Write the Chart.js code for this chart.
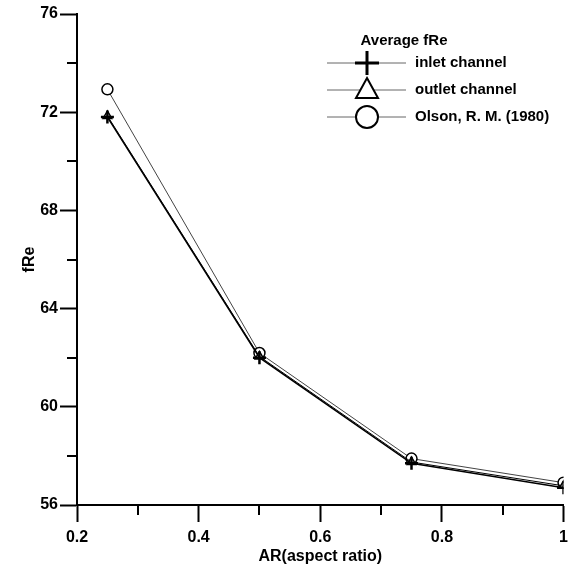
<!DOCTYPE html>
<html>
<head>
<meta charset="utf-8">
<script src="https://cdn.jsdelivr.net/npm/chart.js@4.4.1/dist/chart.umd.min.js"></script>
<style>
  body { margin: 0; background: #fff; }
  #wrap { width: 574px; height: 570px; }
</style>
</head>
<body>
<div id="wrap"><canvas id="chart" width="574" height="570"></canvas></div>
<script>
const aspectRatios = [0.25, 0.5, 0.75, 1.0];
const inletFRe = [71.8, 62.0, 57.7, 56.7];
const outletFRe = [71.85, 62.05, 57.75, 56.78];
const olsonFRe = [72.93, 62.19, 57.89, 56.91];
const seriesNames = ["inlet channel", "outlet channel", "Olson, R. M. (1980)"];
const legendTitle = "Average fRe";
const yMinorTicks = [58, 62, 66, 70, 74];
const xMinorTicks = [0.3, 0.5, 0.7, 0.9];

const FONT = "'Liberation Sans', Arial, sans-serif";

function pts(vals) {
  return aspectRatios.map((x, i) => ({ x: x, y: vals[i] }));
}

// short minor ticks, drawn through the scales
const minorTicks = {
  id: "minorTicks",
  afterDraw(chart) {
    const ctx = chart.ctx;
    const xs = chart.scales.x, ys = chart.scales.y;
    const area = chart.chartArea;
    ctx.save();
    ctx.strokeStyle = "#000";
    ctx.lineWidth = 2;
    ctx.beginPath();
    yMinorTicks.forEach(v => {
      const py = Math.round(ys.getPixelForValue(v));
      ctx.moveTo(area.left - 10, py);
      ctx.lineTo(area.left, py);
    });
    xMinorTicks.forEach(v => {
      const px = Math.round(xs.getPixelForValue(v));
      ctx.moveTo(px, area.bottom);
      ctx.lineTo(px, area.bottom + 10);
    });
    ctx.stroke();
    ctx.restore();
  }
};

// legend with line through marker
const lineLegend = {
  id: "lineLegend",
  afterDraw(chart) {
    const ctx = chart.ctx;
    ctx.save();
    ctx.fillStyle = "#000";
    ctx.font = "bold 15px " + FONT;
    ctx.textAlign = "center";
    ctx.textBaseline = "middle";
    ctx.fillText(legendTitle, 404, 41);
    const rows = [63, 90, 117];
    const styles = ["cross", "triangle", "circle"];
    rows.forEach((y, i) => {
      ctx.strokeStyle = "#666";
      ctx.lineWidth = 1;
      ctx.beginPath();
      ctx.moveTo(327, y);
      ctx.lineTo(406, y);
      ctx.stroke();
      const cx = 367;
      ctx.strokeStyle = "#000";
      if (styles[i] === "cross") {
        ctx.lineWidth = 3;
        ctx.beginPath();
        ctx.moveTo(cx - 12, y); ctx.lineTo(cx + 12, y);
        ctx.moveTo(cx, y - 12); ctx.lineTo(cx, y + 12);
        ctx.stroke();
      } else if (styles[i] === "triangle") {
        ctx.lineWidth = 2;
        ctx.fillStyle = "#fff";
        ctx.beginPath();
        ctx.moveTo(cx, y - 12);
        ctx.lineTo(cx + 11, y + 8);
        ctx.lineTo(cx - 11, y + 8);
        ctx.closePath();
        ctx.fill();
        ctx.stroke();
      } else {
        ctx.lineWidth = 2;
        ctx.fillStyle = "#fff";
        ctx.beginPath();
        ctx.arc(cx, y, 11, 0, Math.PI * 2);
        ctx.fill();
        ctx.stroke();
      }
      ctx.fillStyle = "#000";
      ctx.textAlign = "left";
      ctx.fillText(seriesNames[i], 415, y);
    });
    ctx.restore();
  }
};

const tickFont = { family: FONT, size: 16, weight: "bold" };

new Chart(document.getElementById("chart"), {
  type: "scatter",
  data: {
    datasets: [
      {
        label: seriesNames[0],
        data: pts(inletFRe),
        showLine: true,
        borderColor: "#000",
        borderWidth: 1.5,
        pointStyle: "cross",
        pointRadius: 6.5,
        pointBorderWidth: 2.5,
        pointBorderColor: "#000",
        pointBackgroundColor: "#000"
      },
      {
        label: seriesNames[1],
        data: pts(outletFRe),
        showLine: true,
        borderColor: "#000",
        borderWidth: 1,
        pointStyle: "triangle",
        pointRadius: 5,
        pointBorderWidth: 1.5,
        pointBorderColor: "#000",
        pointBackgroundColor: "#fff"
      },
      {
        label: seriesNames[2],
        data: pts(olsonFRe),
        showLine: true,
        borderColor: "#444",
        borderWidth: 1,
        pointStyle: "circle",
        pointRadius: 5.5,
        pointBorderWidth: 1.5,
        pointBorderColor: "#000",
        pointBackgroundColor: "#fff"
      }
    ]
  },
  options: {
    responsive: false,
    animation: false,
    layout: { padding: { top: 14, right: 3, left: 0, bottom: 0 } },
    plugins: {
      legend: { display: false },
      tooltip: { enabled: false }
    },
    scales: {
      x: {
        type: "linear",
        min: 0.2,
        max: 1,
        ticks: {
          stepSize: 0.2, color: "#000", font: tickFont, padding: 6,
          callback: v => String(Math.round(v * 10) / 10)
        },
        grid: { drawOnChartArea: false, tickLength: 17, tickWidth: 2, tickColor: "#000" },
        border: { display: true, color: "#000", width: 2 },
        title: { display: true, text: "AR(aspect ratio)", color: "#000", font: tickFont, padding: { top: 0, bottom: 4 } },
        afterFit(s) { s.height = 65; }
      },
      y: {
        min: 56,
        max: 76,
        ticks: { stepSize: 4, color: "#000", font: tickFont, padding: 2 },
        grid: { drawOnChartArea: false, tickLength: 17, tickWidth: 2, tickColor: "#000" },
        border: { display: true, color: "#000", width: 2 },
        title: { display: true, text: "fRe", color: "#000", font: tickFont, padding: { top: 20, bottom: 0 } },
        afterFit(s) { s.width = 77; }
      }
    }
  },
  plugins: [minorTicks, lineLegend]
});
</script>
</body>
</html>
